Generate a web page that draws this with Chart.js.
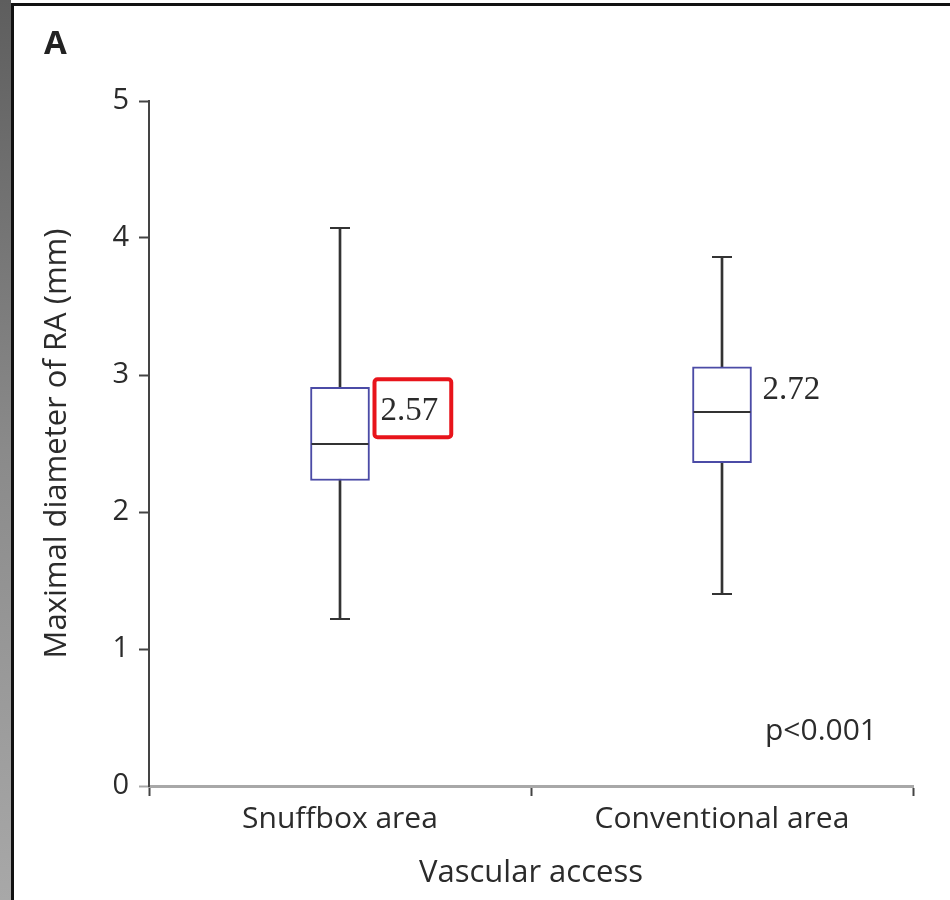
<!DOCTYPE html>
<html>
<head>
<meta charset="utf-8">
<script src="https://cdn.jsdelivr.net/npm/chart.js@4"></script>
<style>
  html, body { margin: 0; padding: 0; background: #fff; }
  #wrap { position: relative; width: 950px; height: 900px; overflow: hidden; background: #fff; }
  #strip { position: absolute; left: 0; top: 0; width: 11px; height: 900px;
           background: linear-gradient(to bottom, #5e5e5e, #8a8a8a 50%, #a8a8a8); }
  #frameTop { position: absolute; left: 11px; top: 3px; width: 939px; height: 3px; background: #111; }
  #frameLeft { position: absolute; left: 11px; top: 3px; width: 3px; height: 897px; background: #111; }
  #panel { position: absolute; left: 44px; top: 19px; font: bold 33px "Open Sans", sans-serif; color: #222; }
  canvas { position: absolute; left: 0; top: 0; }
</style>
</head>
<body>
<div id="wrap">
  <canvas id="chart" width="950" height="900"></canvas>
  <div id="strip"></div>
  <div id="frameTop"></div>
  <div id="frameLeft"></div>
  <div id="panel">A</div>
</div>
<script>
// box plot values
const categories = ['Snuffbox area', 'Conventional area'];
const whiskerMin = [1.22, 1.40];
const q1 = [2.23, 2.36];
const median = [2.50, 2.73];
const q3 = [2.91, 3.06];
const whiskerMax = [4.07, 3.86];
const meanLabels = ['2.57', '2.72'];
const yTicks = [0, 1, 2, 3, 4, 5];
const pText = 'p<0.001';

const textColor = '#2b2b2b';
const sans = '"Open Sans", sans-serif';

// caps, medians and the mean labels on top of the bars
const boxExtras = {
    id: 'boxExtras',
    afterDatasetsDraw(chart) {
        const ctx = chart.ctx;
        const x = chart.scales.x;
        const y = chart.scales.y;
        const boxMeta = chart.getDatasetMeta(1);
        ctx.save();
        categories.forEach((c, i) => {
            const cx = x.getPixelForValue(i);
            const bar = boxMeta.data[i];
            const half = bar.width / 2;
            ctx.strokeStyle = '#333';
            ctx.lineWidth = 2;
            // whisker caps
            [whiskerMin[i], whiskerMax[i]].forEach(v => {
                const py = Math.round(y.getPixelForValue(v));
                ctx.beginPath();
                ctx.moveTo(cx - 10, py);
                ctx.lineTo(cx + 10, py);
                ctx.stroke();
            });
            // median
            const my = Math.round(y.getPixelForValue(median[i]));
            ctx.beginPath();
            ctx.moveTo(bar.x - half + 1, my);
            ctx.lineTo(bar.x + half - 1, my);
            ctx.stroke();
            // mean label
            ctx.font = '33px "Liberation Serif", serif';
            ctx.fillStyle = textColor;
            ctx.textAlign = 'left';
            ctx.textBaseline = 'middle';
            const lx = bar.x + half + 11;
            const ly = y.getPixelForValue(q3[i]) + 24;
            ctx.fillText(meanLabels[i], lx, ly);
            if (i === 0) {
                const w = ctx.measureText(meanLabels[i]).width;
                ctx.strokeStyle = '#e8141b';
                ctx.lineWidth = 4;
                ctx.beginPath();
                ctx.roundRect(lx - 6, ly - 32, w + 19, 58, 3);
                ctx.stroke();
            }
        });
        // p value
        ctx.font = '30px ' + sans;
        ctx.fillStyle = textColor;
        ctx.textAlign = 'right';
        ctx.textBaseline = 'middle';
        ctx.fillText(pText, chart.chartArea.right - 36, y.getPixelForValue(0.4));
        ctx.restore();
    }
};

new Chart(document.getElementById('chart'), {
    type: 'bar',
    data: {
        labels: categories,
        datasets: [
            {
                label: 'whiskers',
                data: categories.map((c, i) => [whiskerMin[i], whiskerMax[i]]),
                backgroundColor: '#333',
                barThickness: 2,
                grouped: false,
                order: 2
            },
            {
                label: 'box',
                data: categories.map((c, i) => [q1[i], q3[i]]),
                backgroundColor: '#ffffff',
                borderColor: '#4b4ba6',
                borderWidth: 2,
                borderSkipped: false,
                barThickness: 59,
                grouped: false,
                order: 1
            }
        ]
    },
    options: {
        responsive: false,
        animation: false,
        events: [],
        layout: { padding: { left: 0, top: 101, right: 37, bottom: 0 } },
        plugins: { legend: { display: false }, tooltip: { enabled: false } },
        scales: {
            x: {
                offset: true,
                grid: { drawOnChartArea: false, offset: true, tickLength: 10, tickWidth: 2, tickColor: '#444' },
                border: { color: '#a8a8a8', width: 3 },
                ticks: { color: textColor, font: { family: sans, size: 30 }, padding: 5, maxRotation: 0 },
                title: { display: true, text: 'Vascular access', color: textColor,
                         font: { family: sans, size: 31 }, padding: { top: 0, bottom: 8 } },
                afterFit: s => { s.height = 114; }
            },
            y: {
                min: 0,
                max: 5,
                afterBuildTicks: s => { s.ticks = yTicks.map(v => ({ value: v })); },
                grid: { drawOnChartArea: false, tickLength: 10, tickWidth: 2,
                        tickColor: c => c.tick && c.tick.value === 0 ? '#a8a8a8' : '#444' },
                border: { color: '#444', width: 2 },
                ticks: { color: textColor, font: { family: sans, size: 29 }, padding: 10 },
                title: { display: true, text: 'Maximal diameter of RA (mm)', color: textColor,
                         font: { family: sans, size: 31 }, padding: { top: 39, bottom: 0 } },
                afterFit: s => { s.width = 149; }
            }
        }
    },
    plugins: [boxExtras]
});
</script>
</body>
</html>
